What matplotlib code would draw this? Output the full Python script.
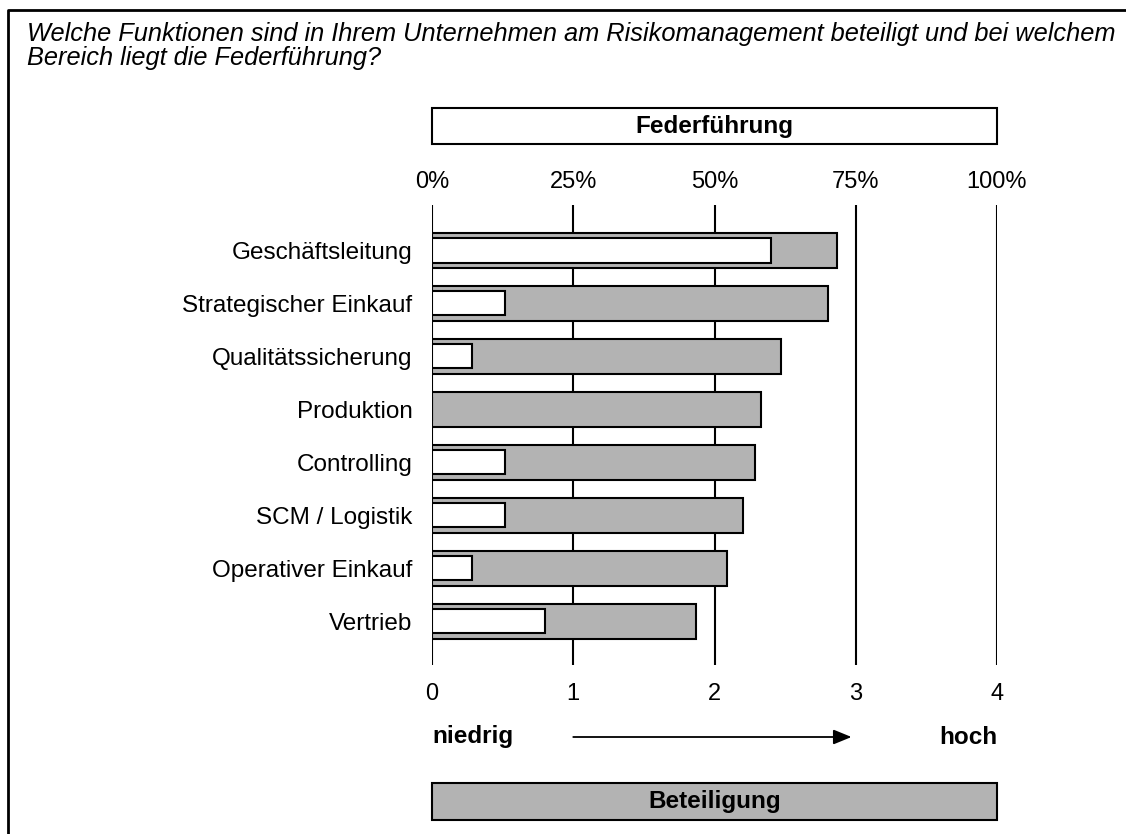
import matplotlib
matplotlib.use("Agg")
import matplotlib.pyplot as plt
import matplotlib.transforms as mtransforms
from matplotlib.patches import Rectangle
from matplotlib.lines import Line2D

plt.rcParams['font.family'] = ['Liberation Sans', 'DejaVu Sans']

categories = ["Geschäftsleitung", "Strategischer Einkauf", "Qualitätssicherung",
              "Produktion", "Controlling", "SCM / Logistik", "Operativer Einkauf", "Vertrieb"]
beteiligung = [2.87, 2.80, 2.47, 2.33, 2.29, 2.20, 2.09, 1.87]
federfuehrung = [60, 13, 7, 0, 13, 13, 7, 20]
bottom_ticks = [0, 1, 2, 3, 4]
top_ticks = [0, 25, 50, 75, 100]
top_labels = ["0%", "25%", "50%", "75%", "100%"]
title = ("Welche Funktionen sind in Ihrem Unternehmen am Risikomanagement beteiligt und bei welchem\n"
         "Bereich liegt die Federführung?")

W, H = 1126, 834
fig = plt.figure(figsize=(W / 100, H / 100), dpi=100)
fig.patch.set_facecolor("white")

def fx(px):
    return px / W

def fy(py):
    return 1 - py / H

ax = fig.add_axes([fx(432), fy(665), fx(997) - fx(432), fy(205) - fy(665)])
ax.set_xlim(0, 4)
for s in ax.spines.values():
    s.set_visible(False)

gray = "#b3b3b3"
fs = 17.5
fs_tick = 17

for t in bottom_ticks:
    ax.axvline(t, color="black", lw=1.5, zorder=1)

y = list(range(len(categories)))
ax.barh(y, beteiligung, height=0.66, color=gray, edgecolor="black", lw=1.5, zorder=2)

ax2 = ax.twiny()
ax2.set_xlim(0, 100)
for s in ax2.spines.values():
    s.set_visible(False)
ax2.barh(y, federfuehrung, height=0.47, color="white", edgecolor="black", lw=1.5, zorder=3)

ax.set_yticks(y)
ax.set_yticklabels(categories, fontsize=fs)
ax.tick_params(axis="y", length=0, pad=14)
ax.set_ylim(7.83, -0.85)
ax.set_xticks(bottom_ticks)
ax.set_xticklabels([str(t) for t in bottom_ticks], fontsize=fs_tick)
ax.tick_params(axis="x", length=0, pad=13)
ax2.set_xticks(top_ticks)
ax2.set_xticklabels(top_labels, fontsize=fs_tick)
ax2.tick_params(axis="x", length=0, pad=9)

# Frame
fig.add_artist(Line2D([fx(8), fx(8), 1.0], [0.0, fy(10), fy(10)], color="black", lw=2,
                      transform=fig.transFigure))

# Title
fig.text(fx(27), fy(22), title, fontsize=18.3, style="italic", va="top", ha="left",
         linespacing=1.0)

blend = mtransforms.blended_transform_factory(ax.transData, fig.transFigure)

# Federführung box
fig.add_artist(Rectangle((0, fy(144)), 4, fy(108) - fy(144), transform=blend,
                         facecolor="white", edgecolor="black", lw=1.5))
fig.text(2, (fy(144) + fy(108)) / 2, "Federführung", transform=blend, ha="center",
         va="center", fontsize=fs, fontweight="bold")

# Beteiligung box
fig.add_artist(Rectangle((0, fy(820)), 4, fy(783) - fy(820), transform=blend,
                         facecolor=gray, edgecolor="black", lw=1.5))
fig.text(2, (fy(820) + fy(783)) / 2, "Beteiligung", transform=blend, ha="center",
         va="center", fontsize=fs, fontweight="bold")

# niedrig -> hoch
fig.text(0, fy(737), "niedrig", transform=blend, ha="left", va="center",
         fontsize=fs, fontweight="bold")
fig.text(4, fy(737), "hoch", transform=blend, ha="right", va="center",
         fontsize=fs, fontweight="bold")
ax.annotate("", xy=(2.97, fy(737)), xytext=(1.0, fy(737)),
            xycoords=blend, textcoords=blend,
            arrowprops=dict(arrowstyle="-|>,head_length=1.1,head_width=0.45",
                            color="black", lw=1.3, shrinkA=0, shrinkB=0),
            annotation_clip=False)

fig.savefig("out.png", dpi=100, facecolor="white")
